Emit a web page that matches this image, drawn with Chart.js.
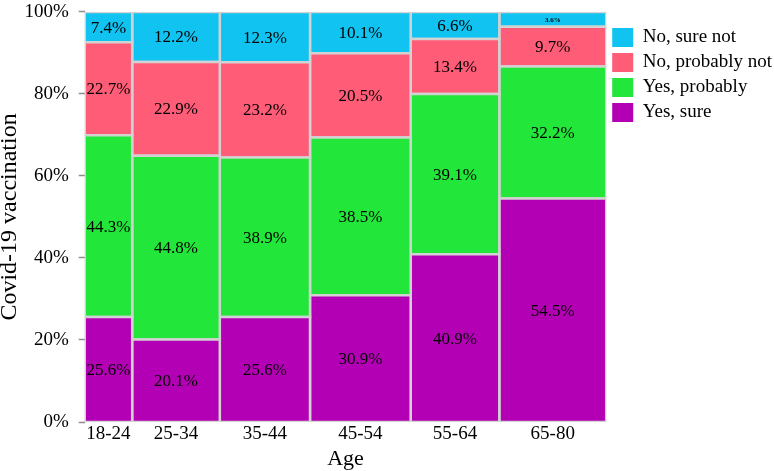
<!DOCTYPE html>
<html>
<head>
<meta charset="utf-8">
<script src="https://cdn.jsdelivr.net/npm/chart.js@4"></script>
<style>
  html, body { margin: 0; padding: 0; background: #fff; }
</style>
</head>
<body>
<canvas id="mosaic" width="774" height="471"></canvas>
<script>
// mosaic: column width = share of respondents in the age group
const ageGroups = ['18-24', '25-34', '35-44', '45-54', '55-64', '65-80'];
const ageShare = [9.1, 16.8, 17.3, 19.3, 17.0, 20.5];
const answers = ['Yes, sure', 'Yes, probably', 'No, probably not', 'No, sure not'];
const yesSure = [25.6, 20.1, 25.6, 30.9, 40.9, 54.5];
const yesProbably = [44.3, 44.8, 38.9, 38.5, 39.1, 32.2];
const noProbablyNot = [22.7, 22.9, 23.2, 20.5, 13.4, 9.7];
const noSureNot = [7.4, 12.2, 12.3, 10.1, 6.6, 3.6];
const yTicks = [0, 20, 40, 60, 80, 100];

const colors = ['#b400b4', '#22e63a', '#ff5c77', '#10c3f1'];
const serif = '"Liberation Serif", "Times New Roman", serif';

const series = [yesSure, yesProbably, noProbablyNot, noSureNot];
const datasets = [];
const centers = [];
let x0 = 0;
ageGroups.forEach((g, i) => {
  const x1 = x0 + ageShare[i];
  centers.push((x0 + x1) / 2);
  let y0 = 0;
  series.forEach((s, k) => {
    const y1 = y0 + s[i];
    datasets.push({
      label: answers[k],
      data: [{x: x0, y: y0}, {x: x1, y: y0}, {x: x1, y: y1}, {x: x0, y: y1}, {x: x0, y: y0}],
      backgroundColor: colors[k],
      borderColor: '#d2d2d2',
      borderWidth: 2.5,
      fill: 'shape',
      pointRadius: 0,
      tension: 0,
      pct: s[i]
    });
    y0 = y1;
  });
  x0 = x1;
});

// percentage text in the middle of each tile
const pctLabels = {
  id: 'pctLabels',
  afterDatasetsDraw(chart) {
    const {ctx, scales: {x, y}} = chart;
    ctx.save();
    ctx.textAlign = 'center';
    ctx.textBaseline = 'middle';
    ctx.fillStyle = '#000';
    chart.data.datasets.forEach(ds => {
      const p = ds.data;
      const cx = x.getPixelForValue((p[0].x + p[1].x) / 2);
      const top = y.getPixelForValue(p[2].y);
      const bot = y.getPixelForValue(p[0].y);
      ctx.font = (bot - top < 20 ? 'bold 7px ' : '17px ') + serif;
      ctx.fillText(ds.pct.toFixed(1) + '%', cx, (top + bot) / 2 + 1);
    });
    ctx.restore();
  }
};

new Chart(document.getElementById('mosaic'), {
  type: 'line',
  data: { datasets: datasets },
  plugins: [pctLabels],
  options: {
    responsive: false,
    animation: false,
    events: [],
    layout: { padding: { top: 0, right: -8, left: 0, bottom: 0 } },
    plugins: {
      tooltip: { enabled: false },
      legend: {
        position: 'right',
        align: 'start',
        onClick: null,
        title: { display: true, text: ' ', font: { size: 10 }, padding: { top: 5, bottom: 5 } },
        labels: {
          boxWidth: 21,
          boxHeight: 19,
          padding: 6,
          color: '#000',
          font: { family: serif, size: 19 },
          generateLabels: () => [3, 2, 1, 0].map(k => ({
            text: answers[k],
            fillStyle: colors[k],
            strokeStyle: colors[k],
            fontColor: '#000',
            lineWidth: 0,
            hidden: false
          }))
        }
      }
    },
    scales: {
      x: {
        type: 'linear',
        min: 0,
        max: 100,
        afterBuildTicks: s => { s.ticks = centers.map(v => ({ value: v })); },
        ticks: {
          autoSkip: false,
          maxRotation: 0,
          color: '#000',
          padding: 1,
          font: { family: serif, size: 19 },
          callback: (v, i) => ageGroups[i]
        },
        grid: { display: false, drawTicks: false },
        border: { display: false },
        title: {
          display: true,
          text: 'Age',
          color: '#000',
          font: { family: serif, size: 22, lineHeight: 1.1 },
          padding: { top: 0, bottom: 0 }
        }
      },
      y: {
        type: 'linear',
        min: 0,
        max: 100,
        afterBuildTicks: s => { s.ticks = yTicks.map(v => ({ value: v })); },
        ticks: {
          color: '#000',
          padding: 10,
          font: { family: serif, size: 19, lineHeight: 0.2 },
          callback: v => v + '%'
        },
        grid: { drawOnChartArea: false, color: '#8c8c8c', tickLength: 6, tickWidth: 1.5 },
        border: { display: false },
        title: {
          display: true,
          text: 'Covid-19 vaccination',
          color: '#000',
          font: { family: serif, size: 24, lineHeight: 0.85 },
          padding: { top: 0, bottom: -6 }
        }
      }
    }
  }
});
</script>
</body>
</html>
